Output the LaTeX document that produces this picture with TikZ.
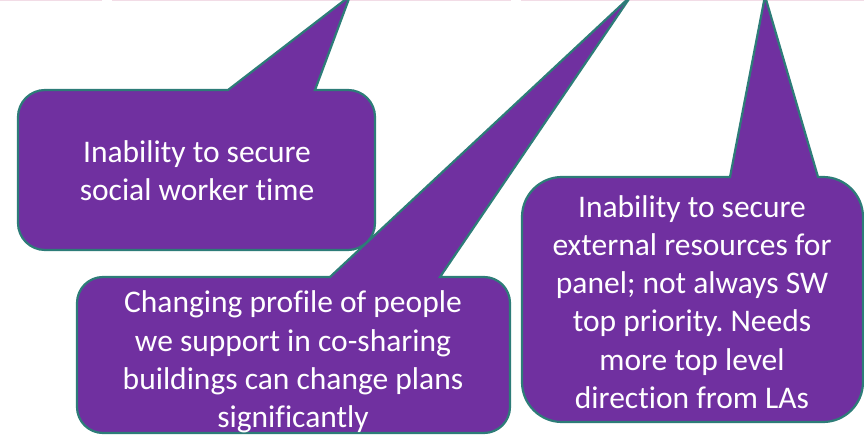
\documentclass[tikz,border=0pt]{standalone}
\usepackage{fontspec}
\setmainfont[Ligatures={NoCommon}]{Carlito}
\frenchspacing
\definecolor{calloutfill}{RGB}{112,48,160}
\definecolor{calloutline}{RGB}{45,124,120}
\definecolor{topline}{RGB}{242,220,230}
\tikzset{
  callout/.style={fill=calloutfill, draw=calloutline, line width=2.2pt, line join=miter},
  callouttext/.style={text=white, align=center, inner sep=0pt,
    font=\fontsize{31.5}{38.3}\selectfont},
  stripe/.style={fill=topline, draw=none}
}
\begin{document}
\begin{tikzpicture}[x=1pt,y=1pt]
\useasboundingbox (0,0) rectangle (864,436);
\clip (0,0) rectangle (864,436);
% faint lines at the top edge
\fill[stripe] (0,434.5) rectangle (102,436);
\fill[stripe] (112,434.5) rectangle (511,436);
\fill[stripe] (521,434.5) rectangle (864,436);
% callout 1
\coordinate (t1) at (350,440);
\draw[callout] (228,346) -- (t1) -- (315,346) -- (348,346)
  arc[start angle=90,end angle=0,radius=27] -- (375,213)
  arc[start angle=0,end angle=-90,radius=27] -- (45,186)
  arc[start angle=-90,end angle=-180,radius=27] -- (18,319)
  arc[start angle=180,end angle=90,radius=27] -- cycle;
\node[callouttext] (c1) at (197,265) {Inability to secure\\social worker time};
% callout 3
\coordinate (t3) at (765,440);
\draw[callout] (730,259) -- (t3) -- (818,259) -- (823,259)
  arc[start angle=90,end angle=0,radius=40] -- (863,54)
  arc[start angle=0,end angle=-90,radius=40] -- (562,14)
  arc[start angle=-90,end angle=-180,radius=40] -- (522,219)
  arc[start angle=180,end angle=90,radius=40] -- cycle;
\node[callouttext] (c3) at (692,134) {Inability to secure\\external resources for\\panel; not always SW\\top priority. Needs\\more top level\\direction from LAs};
% callout 2
\coordinate (t2) at (631,440);
\draw[callout] (330,159) -- (t2) -- (440,159) -- (484,159)
  arc[start angle=90,end angle=0,radius=26] -- (510,29)
  arc[start angle=0,end angle=-90,radius=26] -- (103,3)
  arc[start angle=-90,end angle=-180,radius=26] -- (77,133)
  arc[start angle=180,end angle=90,radius=26] -- cycle;
\node[callouttext] (c2) at (293,74) {Changing profile of people\\we support in co-sharing\\buildings can change plans\\significantly};
\end{tikzpicture}
\end{document}
